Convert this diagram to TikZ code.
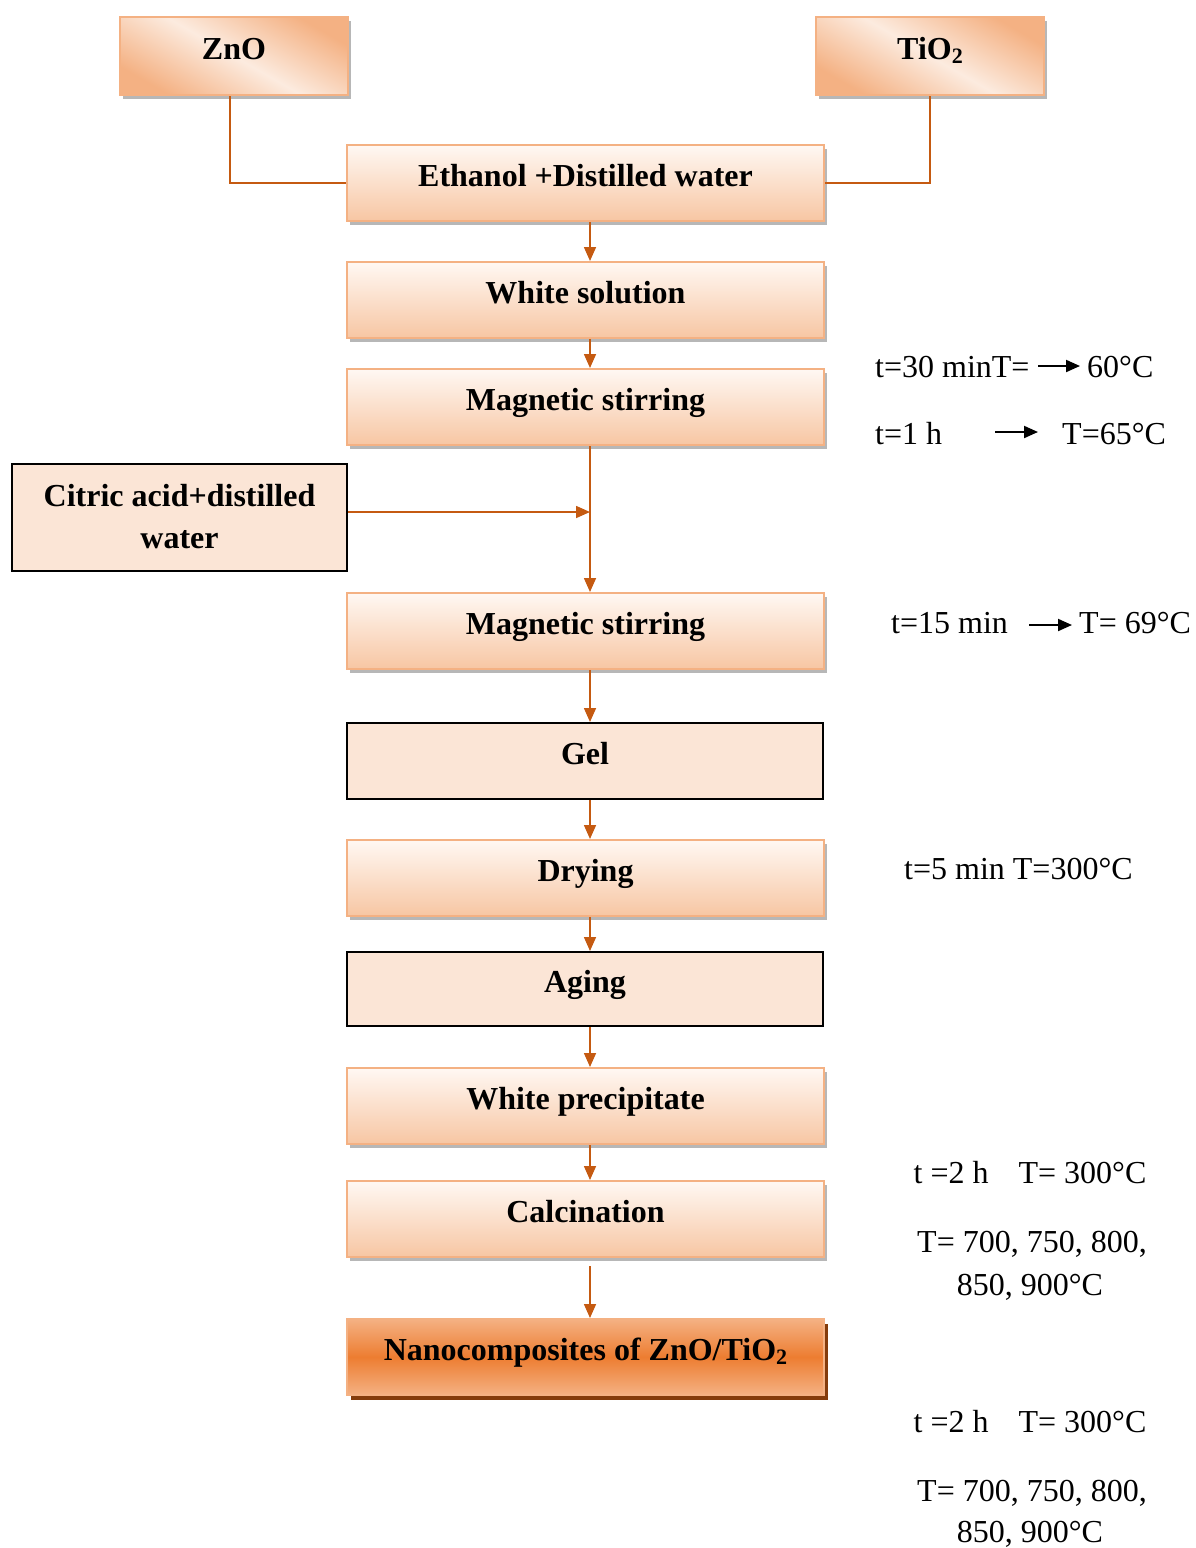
\documentclass[tikz,border=0pt]{standalone}
\usepackage{fontspec}
\setmainfont{Liberation Serif}
\usetikzlibrary{arrows.meta,shadows}
\definecolor{edgeor}{HTML}{F4B183}
\definecolor{peach}{HTML}{F7C6A3}
\definecolor{pale}{HTML}{FFF8F3}
\definecolor{lightmid}{HTML}{FCEBDF}
\definecolor{orline}{HTML}{C55A11}
\definecolor{plainfill}{HTML}{FBE5D6}
\definecolor{nanomid}{HTML}{ED7D31}
\definecolor{nanoshadow}{HTML}{843C0C}
\newcommand\lowtwo{\raisebox{-0.12em}{\fontsize{22}{22}\selectfont 2}}
\begin{document}
\begin{tikzpicture}[x=1pt,y=-1pt,
  boxtext/.style={font=\fontsize{32}{38}\selectfont\bfseries, text height=24pt, text depth=17pt, inner sep=0pt, align=center},
  gbox/.style={boxtext, draw=edgeor, line width=2pt, top color=pale, bottom color=peach,
    minimum width=477pt, minimum height=76pt,
    drop shadow={shadow xshift=3pt, shadow yshift=-4pt, fill=black!35, opacity=0.8}},
  gboxdiag/.style={gbox, minimum width=228pt, minimum height=78pt,
    top color=edgeor, bottom color=edgeor, middle color=lightmid, shading angle=-30},
  pbox/.style={draw=black, line width=2pt, fill=plainfill},
  nbox/.style={boxtext, draw=edgeor, line width=2pt, top color=edgeor, bottom color=edgeor, middle color=nanomid,
    minimum width=477pt, minimum height=76pt,
    drop shadow={shadow xshift=4pt, shadow yshift=-5pt, fill=nanoshadow, opacity=1}},
  ann/.style={font=\fontsize{32}{38}\selectfont, inner sep=0pt},
  link/.style={draw=orline, line width=1.6pt},
  flow/.style={link, -{Triangle[length=14pt,width=12pt]}},
  blackarrow/.style={draw=black, line width=2pt, -{Triangle[length=14pt,width=12pt]}}
]
\useasboundingbox (0,0) rectangle (1195,1548);
\fill[white] (0,0) rectangle (1195,1548);

% boxes
\node[gboxdiag] (zno) at (234,56) {ZnO};
\node[gboxdiag] (tio) at (930,56) {TiO\lowtwo};
\node[gbox] (eth) at (585.5,183) {Ethanol +Distilled water};
\node[gbox] (ws) at (585.5,300) {White solution};
\node[gbox] (ms1) at (585.5,407) {Magnetic stirring};
\node[pbox, minimum width=335pt, minimum height=107pt, inner sep=0pt, align=center,
      font=\fontsize{32}{42}\selectfont\bfseries] (cit) at (179.5,517.5) {\raisebox{3pt}{Citric acid+distilled}\\\raisebox{3pt}{water}};
\node[gbox] (ms2) at (585.5,631) {Magnetic stirring};
\node[pbox, boxtext, minimum width=476pt, minimum height=76pt] (gel) at (585,761) {Gel};
\node[gbox] (dry) at (585.5,878) {Drying};
\node[pbox, boxtext, minimum width=476pt, minimum height=74pt] (age) at (585,989) {Aging};
\node[gbox] (wp) at (585.5,1106) {White precipitate};
\node[gbox] (cal) at (585.5,1219) {Calcination};
\node[nbox] (nano) at (585.5,1357) {Nanocomposites of ZnO/TiO\lowtwo};

% connectors
\draw[link] ([xshift=-4pt]zno.south) |- (eth.west);
\draw[link] (tio.south) |- (eth.east);
\draw[flow] ([xshift=4.5pt]eth.south) -- ([xshift=4.5pt]ws.north);
\draw[flow] ([xshift=4.5pt]ws.south) -- ([xshift=4.5pt]ms1.north);
\draw[flow] ([xshift=4.5pt]ms1.south) -- ([xshift=4.5pt]ms2.north);
\coordinate (join) at (590,512);
\draw[flow] (cit.east |- join) -- (join);
\draw[flow] ([xshift=4.5pt]ms2.south) -- ([xshift=5pt]gel.north);
\draw[flow] ([xshift=5pt]gel.south) -- ([xshift=4.5pt]dry.north);
\draw[flow] ([xshift=4.5pt]dry.south) -- ([xshift=5pt]age.north);
\draw[flow] ([xshift=5pt]age.south) -- ([xshift=4.5pt]wp.north);
\draw[flow] ([xshift=4.5pt]wp.south) -- ([xshift=4.5pt]cal.north);
\draw[flow, shorten <=8pt] ([xshift=4.5pt]cal.south) -- ([xshift=4.5pt]nano.north);

% annotations
\node[ann, anchor=base west] (t1a) at (875,377) {t=30 minT=};
\node[ann, anchor=base west] (t1b) at (1087,377) {60°C};
\coordinate (a1s) at (1038,366);
\coordinate (a1e) at (1080,366);
\draw[blackarrow] (a1s) -- (a1e);

\node[ann, anchor=base west] (t2a) at (875,444) {t=1 h};
\node[ann, anchor=base west] (t2b) at (1062,444) {T=65°C};
\coordinate (a2s) at (995,432);
\coordinate (a2e) at (1038,432);
\draw[blackarrow] (a2s) -- (a2e);

\node[ann, anchor=base west] (t3a) at (891,633) {t=15 min};
\node[ann, anchor=base west] (t3b) at (1079,633) {T= 69°C};
\coordinate (a3s) at (1029,625);
\coordinate (a3e) at (1072,625);
\draw[blackarrow] (a3s) -- (a3e);

\node[ann, anchor=base west] (t4) at (904,879) {t=5 min T=300°C};

\node[ann, anchor=base] (t5) at (1030,1183) {t =2 h\hspace{30pt}T= 300°C};
\node[ann, anchor=base] (t6) at (1032,1252) {T= 700, 750, 800,};
\node[ann, anchor=base] (t7) at (1030,1295) {850, 900°C};

\node[ann, anchor=base] (t8) at (1030,1432) {t =2 h\hspace{30pt}T= 300°C};
\node[ann, anchor=base] (t9) at (1032,1501) {T= 700, 750, 800,};
\node[ann, anchor=base] (t10) at (1030,1542) {850, 900°C};
\end{tikzpicture}
\end{document}
